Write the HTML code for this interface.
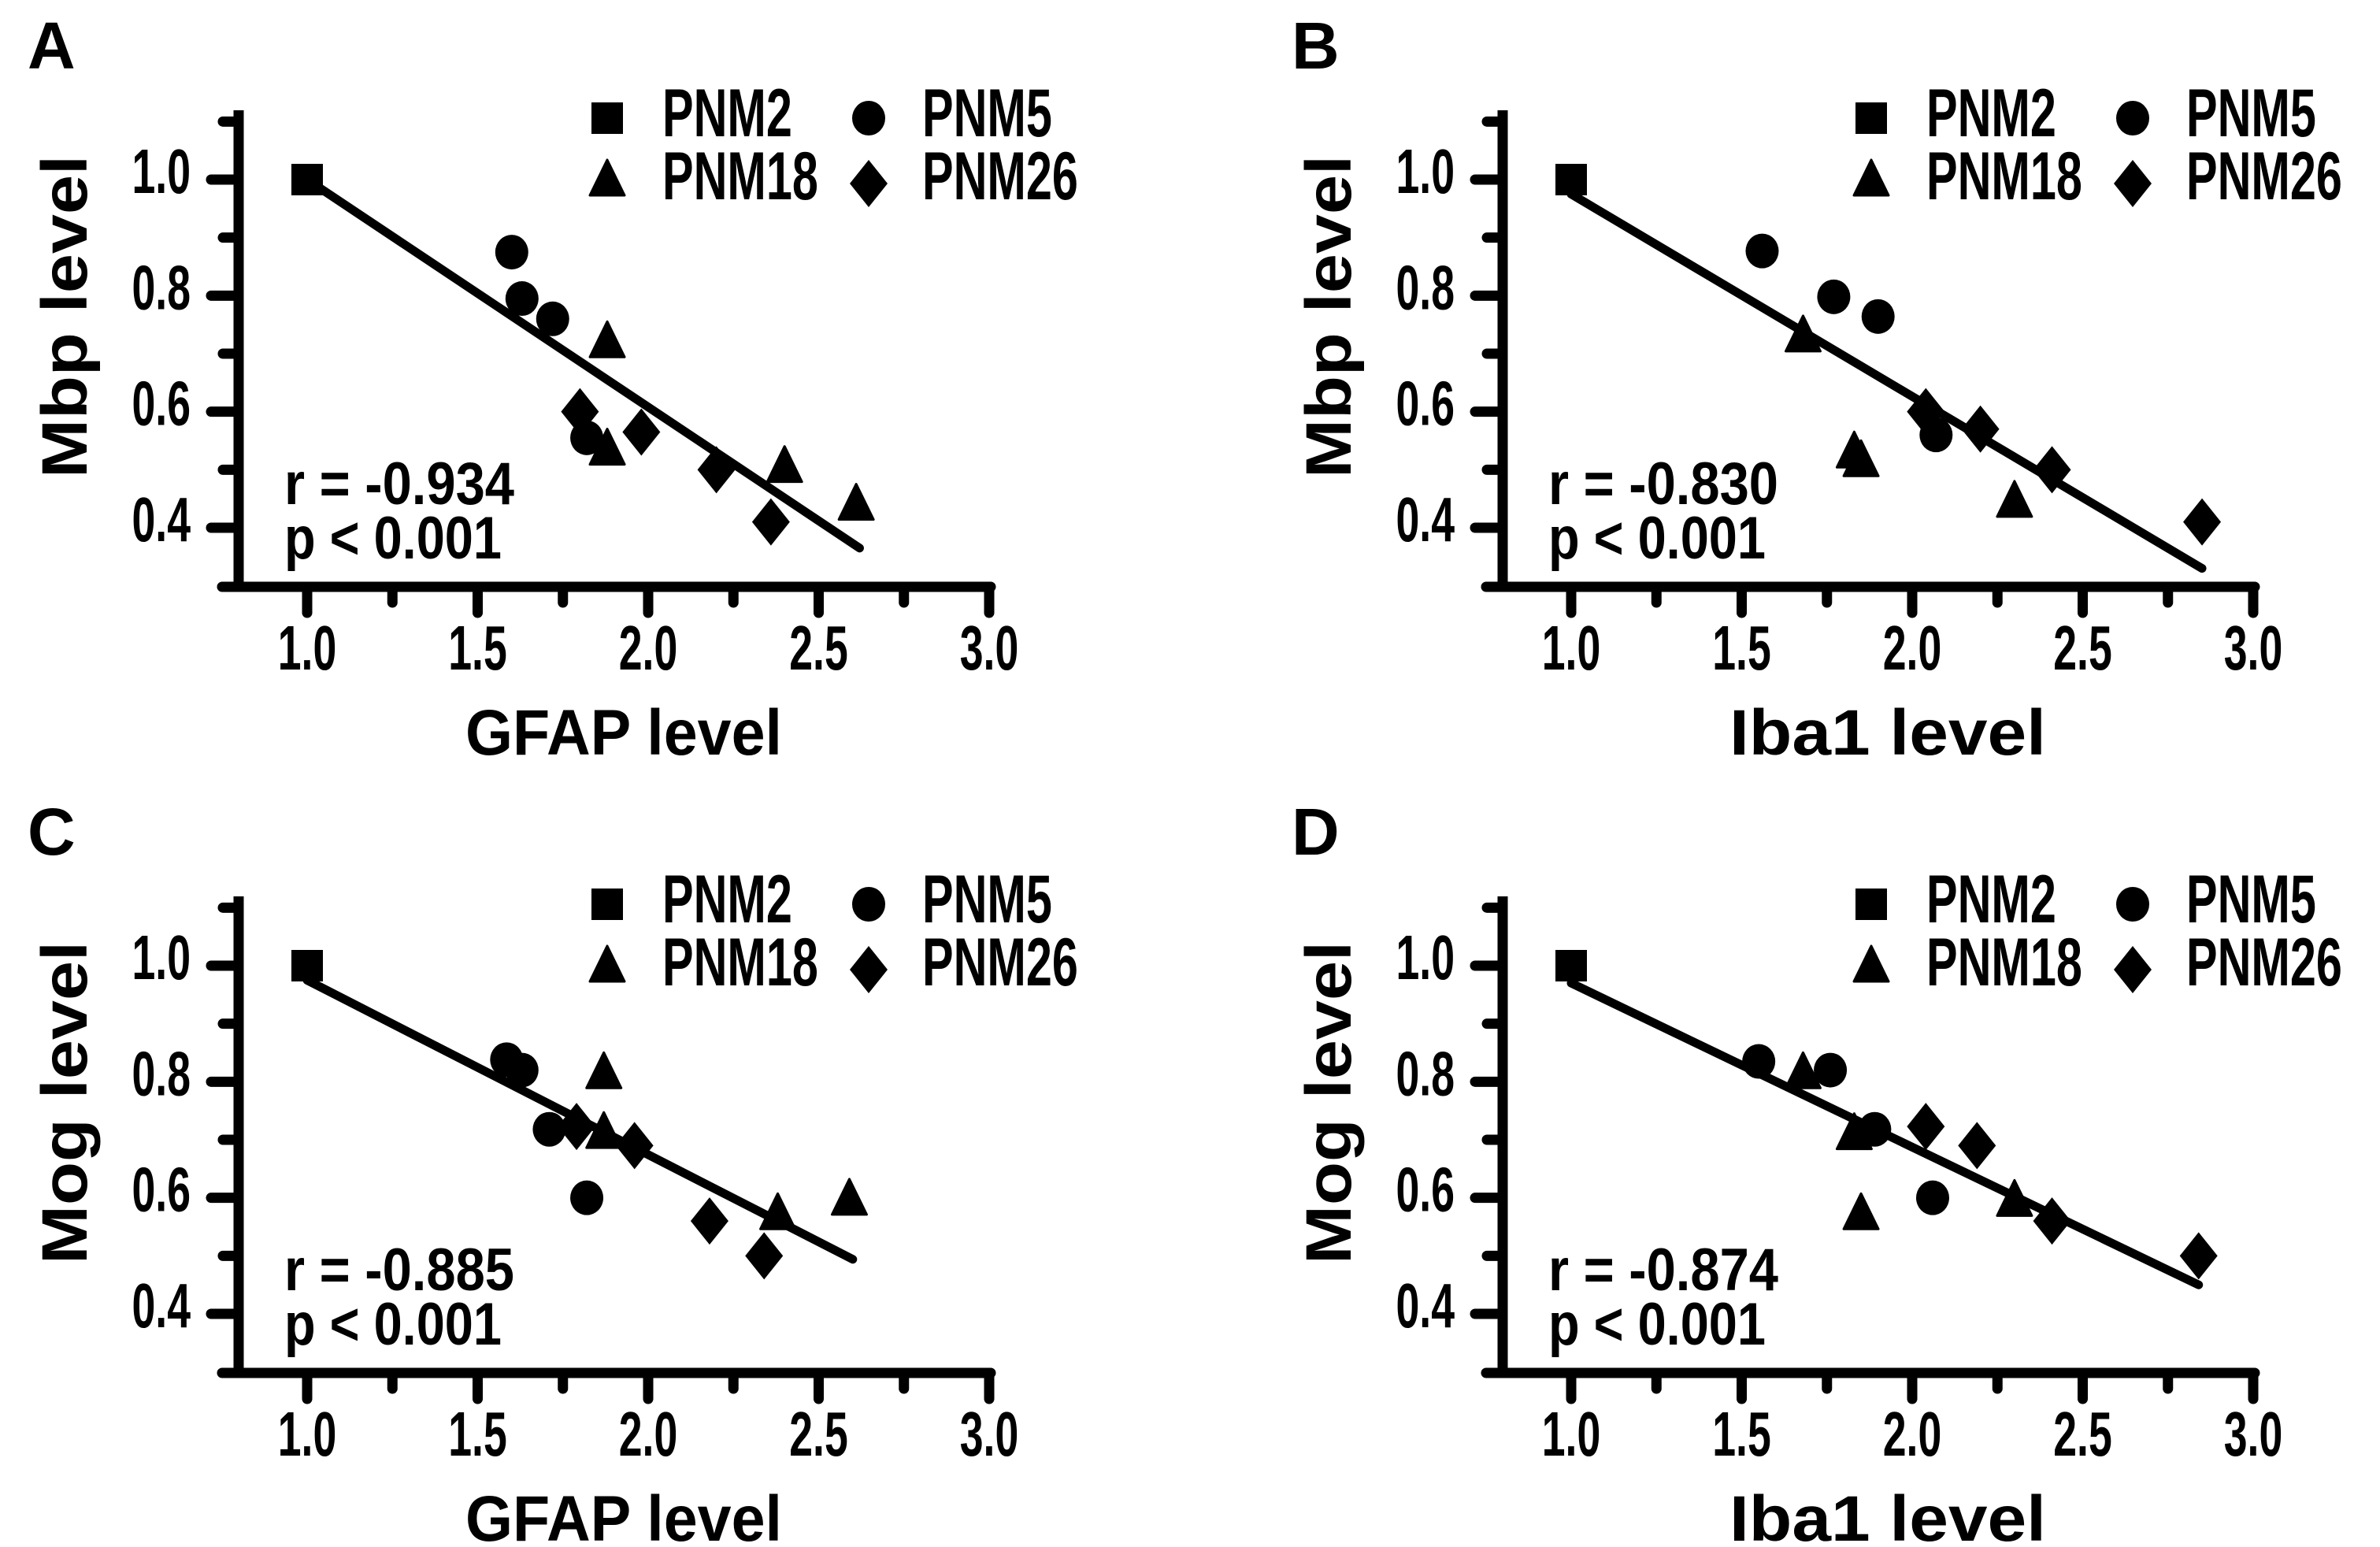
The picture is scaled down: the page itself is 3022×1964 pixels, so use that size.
<!DOCTYPE html>
<html><head><meta charset="utf-8"><style>
html,body{margin:0;padding:0;background:#fff;}
svg{display:block;}
text{font-family:"Liberation Sans",Arial,sans-serif;font-weight:bold;fill:#000;}
</style></head>
<body>
<svg id="fig" width="3022" height="1964" viewBox="0 0 3022 1964" xmlns="http://www.w3.org/2000/svg"></svg>
<script>
// ---- data ----
const xTicks = [1.0, 1.5, 2.0, 2.5, 3.0];
const xTickLabels = ["1.0", "1.5", "2.0", "2.5", "3.0"];
const yTicks = [0.4, 0.6, 0.8, 1.0];
const yTickLabels = ["0.4", "0.6", "0.8", "1.0"];
const seriesNames = ["PNM2", "PNM5", "PNM18", "PNM26"];

// Panel A: Mbp vs GFAP
const aSquareX = [1.0];   const aSquareY = [1.0];
const aCircleX = [1.60, 1.63, 1.72, 1.82]; const aCircleY = [0.875, 0.795, 0.76, 0.555];
const aTriX = [1.88, 1.88, 2.40, 2.61];    const aTriY = [0.72, 0.535, 0.505, 0.44];
const aDiaX = [1.80, 1.98, 2.20, 2.36];    const aDiaY = [0.60, 0.565, 0.50, 0.41];
const aFit = [1.0, 1.0, 2.62, 0.365];
// Panel B: Mbp vs Iba1
const bSquareX = [1.0];   const bSquareY = [1.0];
const bCircleX = [1.56, 1.77, 1.90, 2.07]; const bCircleY = [0.877, 0.798, 0.764, 0.56];
const bTriX = [1.68, 1.83, 1.85, 2.30];    const bTriY = [0.73, 0.53, 0.515, 0.445];
const bDiaX = [2.04, 2.20, 2.41, 2.85];    const bDiaY = [0.60, 0.57, 0.50, 0.41];
const bFit = [1.0, 0.975, 2.85, 0.33];
// Panel C: Mog vs GFAP
const cSquareX = [1.0];   const cSquareY = [1.0];
const cCircleX = [1.585, 1.63, 1.71, 1.82]; const cCircleY = [0.838, 0.82, 0.718, 0.60];
const cTriX = [1.87, 1.87, 2.38, 2.59];    const cTriY = [0.815, 0.712, 0.572, 0.597];
const cDiaX = [1.79, 1.96, 2.18, 2.34];    const cDiaY = [0.723, 0.69, 0.56, 0.50];
const cFit = [1.0, 0.975, 2.60, 0.494];
// Panel D: Mog vs Iba1
const dSquareX = [1.0];   const dSquareY = [1.0];
const dCircleX = [1.55, 1.76, 1.89, 2.06]; const dCircleY = [0.835, 0.82, 0.718, 0.60];
const dTriX = [1.68, 1.83, 1.85, 2.30];    const dTriY = [0.815, 0.71, 0.572, 0.595];
const dDiaX = [2.04, 2.19, 2.41, 2.84];    const dDiaY = [0.723, 0.69, 0.56, 0.50];
const dFit = [1.0, 0.97, 2.84, 0.45];

const panels = [
  {id:"a", letter:"A", ox:0,    oy:0,   ytitle:"Mbp level", xtitle:"GFAP level", r:"r = -0.934",
   sq:[aSquareX,aSquareY], ci:[aCircleX,aCircleY], tr:[aTriX,aTriY], di:[aDiaX,aDiaY], fit:aFit},
  {id:"b", letter:"B", ox:1605, oy:0,   ytitle:"Mbp level", xtitle:"Iba1 level", r:"r = -0.830",
   sq:[bSquareX,bSquareY], ci:[bCircleX,bCircleY], tr:[bTriX,bTriY], di:[bDiaX,bDiaY], fit:bFit},
  {id:"c", letter:"C", ox:0,    oy:998, ytitle:"Mog level", xtitle:"GFAP level", r:"r = -0.885",
   sq:[cSquareX,cSquareY], ci:[cCircleX,cCircleY], tr:[cTriX,cTriY], di:[cDiaX,cDiaY], fit:cFit},
  {id:"d", letter:"D", ox:1605, oy:998, ytitle:"Mog level", xtitle:"Iba1 level", r:"r = -0.874",
   sq:[dSquareX,dSquareY], ci:[dCircleX,dCircleY], tr:[dTriX,dTriY], di:[dDiaX,dDiaY], fit:dFit}
];

const NS = "http://www.w3.org/2000/svg";
const svg = document.getElementById("fig");
function mk(tag, attrs, parent){
  const e = document.createElementNS(NS, tag);
  for (const k in attrs) e.setAttribute(k, attrs[k]);
  (parent||svg).appendChild(e);
  return e;
}
function txt(parent, x, y, s, size, anchor, sx){
  const g = mk("g", {transform:`translate(${x},${y}) scale(${sx},1)`}, parent);
  const t = mk("text", {x:0, y:0, "font-size":size, "text-anchor":anchor}, g);
  t.textContent = s;
  return t;
}
function square(parent, cx, cy){ return mk("rect",{x:cx-20,y:cy-20,width:40,height:40,fill:"#000"},parent); }
function circle(parent, cx, cy){ return mk("ellipse",{cx:cx,cy:cy,rx:21,ry:22,fill:"#000"},parent); }
function tri(parent, cx, cy){ return mk("polygon",{points:`${cx},${cy-26} ${cx+22},${cy+19} ${cx-22},${cy+19}`,fill:"#000","stroke":"#000","stroke-width":3,"stroke-linejoin":"round"},parent); }
function dia(parent, cx, cy){ return mk("polygon",{points:`${cx},${cy-30} ${cx+24},${cy} ${cx},${cy+30} ${cx-24},${cy}`,fill:"#000"},parent); }

panels.forEach(p => {
  const g = mk("g", {});
  
  
  const xs = v => p.ox + 390 + (v - 1) * 433;
  const ys = v => p.oy + 228 - (v - 1) * 736.7;

  const L = txt(g, p.ox + 35, p.oy + 87, p.letter, 84, "start", 1);
  
  

  // axes
  const ax = mk("g", {stroke:"#000","stroke-width":13,"stroke-linecap":"round",fill:"none"}, g);
  
  
  mk("line",{x1:p.ox+303,y1:p.oy+140,x2:p.ox+303,y2:p.oy+745,"stroke-linecap":"butt"},ax);
  mk("line",{x1:p.ox+282,y1:p.oy+745,x2:p.ox+1258,y2:p.oy+745},ax);
  [0.5,0.7,0.9,1.1].forEach(v => mk("line",{x1:p.ox+283,y1:ys(v),x2:p.ox+303,y2:ys(v)},ax));
  yTicks.forEach(v => mk("line",{x1:p.ox+268,y1:ys(v),x2:p.ox+303,y2:ys(v)},ax));
  [1.25,1.75,2.25,2.75].forEach(v => mk("line",{x1:xs(v),y1:p.oy+745,x2:xs(v),y2:p.oy+765},ax));
  xTicks.forEach(v => mk("line",{x1:xs(v),y1:p.oy+745,x2:xs(v),y2:p.oy+778},ax));

  yTicks.forEach((v,i) => {
    const t = txt(g, p.ox + 242, ys(v) + 17, yTickLabels[i], 80, "end", 0.67);
    
    
  });
  xTicks.forEach((v,i) => {
    const t = txt(g, xs(v), p.oy + 850, xTickLabels[i], 80, "middle", 0.67);
    
    
  });

  // titles
  const yt = mk("text",{x:0,y:0,"font-size":82,"text-anchor":"middle",textLength:410,lengthAdjust:"spacingAndGlyphs",
     transform:`translate(${p.ox+110},${p.oy+402}) rotate(-90)`}, g);
  yt.textContent = p.ytitle;
  
  
  const xt = mk("text",{x:p.ox+792,y:p.oy+958,"font-size":82,"text-anchor":"middle",textLength:402,lengthAdjust:"spacingAndGlyphs"}, g);
  xt.textContent = p.xtitle;
  
  

  // stats
  const rt = mk("text",{x:p.ox+361,y:p.oy+640,"font-size":76,textLength:292,lengthAdjust:"spacingAndGlyphs"}, g);
  rt.textContent = p.r;
  
  
  const pt = mk("text",{x:p.ox+361,y:p.oy+709,"font-size":76,textLength:276,lengthAdjust:"spacingAndGlyphs"}, g);
  pt.textContent = "p < 0.001";
  
  

  // fit line
  const fl = mk("line",{x1:xs(p.fit[0]),y1:ys(p.fit[1]),x2:xs(p.fit[2]),y2:ys(p.fit[3]),stroke:"#000","stroke-width":11,"stroke-linecap":"round"}, g);
  
  

  // points
  const draws = [[p.sq,square,"pnm2"],[p.ci,circle,"pnm5"],[p.tr,tri,"pnm18"],[p.di,dia,"pnm26"]];
  draws.forEach(([d,fn,nm]) => {
    d[0].forEach((xv,i) => {
      const m = fn(g, xs(xv), ys(d[1][i]));
      
      
    });
  });

  // legend
  const lg = mk("g", {}, g);
  
  
  const legPos = [[771,150,841,173],[1103,150,1171,173],[771,229,841,253],[1103,233,1171,253]];
  const legFn = [square, circle, tri, dia];
  seriesNames.forEach((n,i) => {
    const [mx,my,tx,ty] = legPos[i];
    const m = legFn[i](lg, p.ox+mx, p.oy+my);
    
    
    const t = txt(lg, p.ox+tx, p.oy+ty, n, 86, "start", 0.69);
    
    
  });
});
</script>
</body></html>
